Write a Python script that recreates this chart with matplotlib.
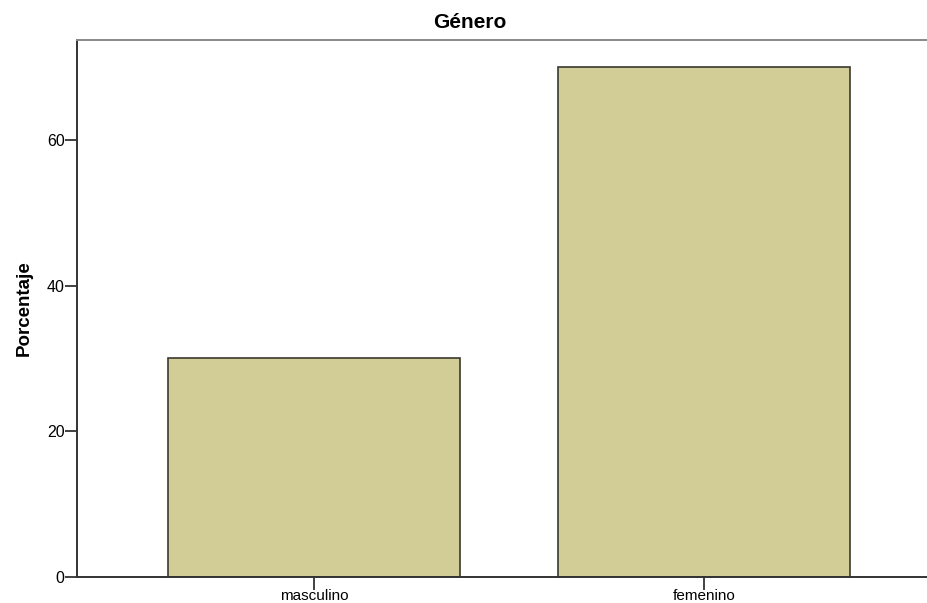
import matplotlib.pyplot as plt
import numpy as np

categorias = ['masculino', 'femenino']
porcentajes = [30.0, 70.0]
yticks = [0, 20, 40, 60]

fig = plt.figure(figsize=(9.28, 6.03), dpi=100)
ax = fig.add_axes([77/928, 26/603, 864/928, 537/603])

x = np.arange(len(categorias))
ax.bar(x, porcentajes, width=0.75, color='#d2cd96', edgecolor='#3a3a30', linewidth=1.2, zorder=2)

ax.set_xlim(-0.608, 1.608)
ax.set_ylim(0, 73.7)
ax.set_xticks(x)
ax.set_xticklabels(categorias, fontsize=11, family='Liberation Sans')
ax.set_yticks(yticks)
ax.set_yticklabels([str(v) for v in yticks], fontsize=11.5, family='Liberation Sans')
ax.tick_params(direction='out', length=9, width=1.3, color='#333333', pad=0)

for s in ['left', 'bottom']:
    ax.spines[s].set_color('#333333')
    ax.spines[s].set_linewidth(1.4)
ax.spines['top'].set_color('#888888')
ax.spines['top'].set_linewidth(1.4)
ax.spines['right'].set_visible(False)

ax.set_ylabel('Porcentaje', fontsize=13.5, fontweight='bold', family='Liberation Sans', labelpad=10)
fig.text(470/928, 1 - 22/603, 'Género', ha='center', va='center', fontsize=15, fontweight='bold', family='Liberation Sans')

fig.savefig('out.png', dpi=100)
